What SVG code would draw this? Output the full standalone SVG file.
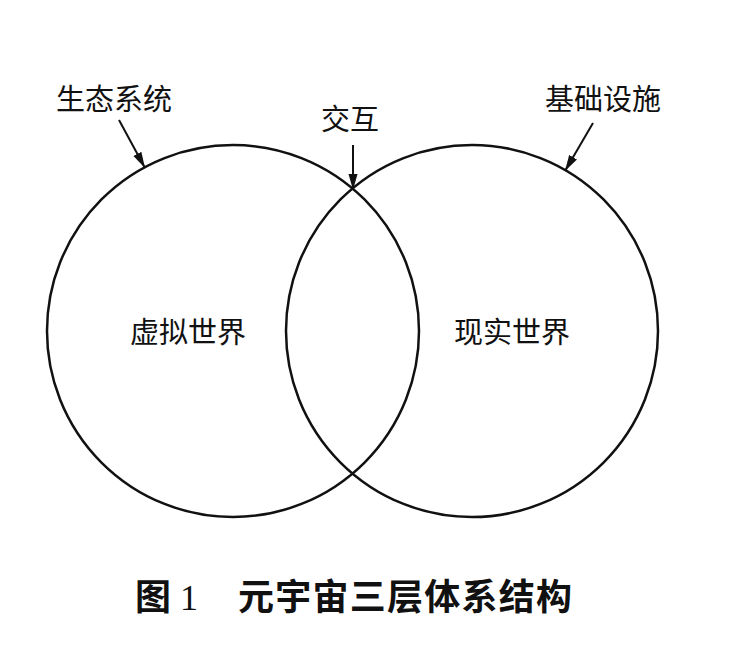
<svg xmlns="http://www.w3.org/2000/svg" width="756" height="661" viewBox="0 0 756 661">
<defs>
<marker id="ah" viewBox="0 0 16 10" refX="16" refY="5" markerWidth="16" markerHeight="10" markerUnits="userSpaceOnUse" orient="auto">
<path d="M0,0.5 L16,5 L0,9.5 Z" fill="#111"/>
</marker>
<style>
.lbl{font-family:"Liberation Serif","Noto Sans CJK SC",serif;font-size:29px;fill:#111;}
.circ{fill:none;stroke:#111;stroke-width:2.5;}
.arr{stroke:#111;stroke-width:2;fill:none;}
.cap{font-family:"Liberation Serif","Noto Sans CJK SC",sans-serif;font-size:36px;font-weight:bold;fill:#111;}
.num{font-family:"Liberation Serif",serif;font-size:36px;fill:#111;}
</style>
</defs>
<rect width="756" height="661" fill="#fff"/>
<g id="virtual">
<circle class="circ" cx="233" cy="331" r="186"/>
<text class="lbl" x="188" y="343" text-anchor="middle">虚拟世界</text>
</g>
<g id="real">
<circle class="circ" cx="472" cy="331" r="186"/>
<text class="lbl" x="512" y="343" text-anchor="middle">现实世界</text>
</g>
<g id="eco">
<text class="lbl" x="114" y="110" text-anchor="middle">生态系统</text>
</g>
<g id="interact">
<text class="lbl" x="350" y="130" text-anchor="middle">交互</text>
</g>
<g id="infra">
<text class="lbl" x="603" y="110" text-anchor="middle">基础设施</text>
</g>
<g id="connectors">
<line class="arr" x1="119" y1="120" x2="145" y2="168" marker-end="url(#ah)"/>
<line class="arr" x1="353" y1="145" x2="353" y2="190" marker-end="url(#ah)"/>
<line class="arr" x1="593" y1="123" x2="565" y2="171" marker-end="url(#ah)"/>
</g>
<g id="caption">
<text class="cap" x="135" y="610">图</text>
<text class="num" x="180" y="610">1</text>
<text class="cap" x="238" y="610" textLength="334">元宇宙三层体系结构</text>
</g>
</svg>
